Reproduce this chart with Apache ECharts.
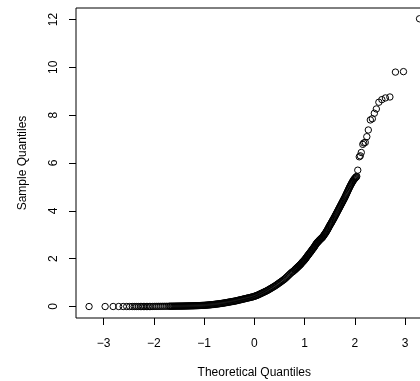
<!DOCTYPE html>
<html>
<head>
<meta charset="utf-8">
<script src="https://cdn.jsdelivr.net/npm/echarts@6/dist/echarts.min.js"></script>
<style>
  html, body { margin: 0; padding: 0; background: #fff; }
  #chart { width: 420px; height: 381px; }
</style>
</head>
<body>
<div id="chart"></div>
<script>
// Normal Q-Q plot, points as [theoretical quantile, sample quantile]

// lower tail: isolated points sitting on zero
const lowerTail = [
  [-3.29, 0], [-2.97, 0], [-2.81, 0], [-2.70, 0], [-2.61, 0], [-2.54, 0],
  [-2.48, 0], [-2.43, 0], [-2.39, 0], [-2.35, 0], [-2.31, 0], [-2.27, 0],
  [-2.24, 0], [-2.21, 0], [-2.18, 0], [-2.15, 0], [-2.12, 0], [-2.09, 0],
  [-2.06, 0], [-2.02, 0.003], [-1.98, 0.005], [-1.94, 0.006], [-1.90, 0.007],
  [-1.86, 0.008], [-1.82, 0.009], [-1.78, 0.010], [-1.74, 0.011]
];

// flat body of the distribution
const body = [
  [-1.70, 0.012], [-1.68, 0.012], [-1.66, 0.013], [-1.64, 0.013], [-1.62, 0.014],
  [-1.60, 0.014], [-1.58, 0.015], [-1.56, 0.016], [-1.54, 0.017], [-1.52, 0.017],
  [-1.50, 0.018], [-1.48, 0.018], [-1.46, 0.019], [-1.44, 0.019], [-1.42, 0.020],
  [-1.40, 0.021], [-1.38, 0.022], [-1.36, 0.023], [-1.34, 0.024], [-1.32, 0.025],
  [-1.30, 0.026], [-1.28, 0.027], [-1.26, 0.028], [-1.24, 0.029], [-1.22, 0.030],
  [-1.20, 0.031], [-1.18, 0.033], [-1.16, 0.035], [-1.14, 0.036], [-1.12, 0.038],
  [-1.10, 0.040], [-1.08, 0.042], [-1.06, 0.044], [-1.04, 0.046], [-1.02, 0.048],
  [-1.00, 0.050], [-0.98, 0.053], [-0.96, 0.057], [-0.94, 0.060], [-0.92, 0.064],
  [-0.90, 0.067], [-0.88, 0.071], [-0.86, 0.075], [-0.84, 0.080], [-0.82, 0.084],
  [-0.80, 0.089], [-0.78, 0.094], [-0.76, 0.100], [-0.74, 0.105], [-0.72, 0.110],
  [-0.70, 0.116], [-0.68, 0.122], [-0.66, 0.128], [-0.64, 0.134], [-0.62, 0.140],
  [-0.60, 0.148], [-0.58, 0.155], [-0.56, 0.163], [-0.54, 0.170], [-0.52, 0.178],
  [-0.50, 0.185], [-0.48, 0.193], [-0.46, 0.200], [-0.44, 0.208], [-0.42, 0.215],
  [-0.40, 0.222], [-0.38, 0.230], [-0.36, 0.240], [-0.34, 0.250], [-0.32, 0.260],
  [-0.30, 0.270], [-0.28, 0.280], [-0.26, 0.290], [-0.24, 0.300], [-0.22, 0.310],
  [-0.20, 0.320], [-0.18, 0.330], [-0.16, 0.340], [-0.14, 0.350], [-0.12, 0.360],
  [-0.10, 0.370], [-0.08, 0.380], [-0.06, 0.390], [-0.04, 0.400], [-0.02, 0.410],
  [0.00, 0.425], [0.02, 0.440], [0.04, 0.455], [0.06, 0.470], [0.08, 0.490],
  [0.10, 0.510], [0.12, 0.530], [0.14, 0.550], [0.16, 0.570], [0.18, 0.590],
  [0.20, 0.610], [0.22, 0.630], [0.24, 0.650], [0.26, 0.670], [0.28, 0.695],
  [0.30, 0.720], [0.32, 0.745], [0.34, 0.770], [0.36, 0.795], [0.38, 0.820],
  [0.40, 0.845], [0.42, 0.870], [0.44, 0.900], [0.46, 0.930], [0.48, 0.960],
  [0.50, 0.990], [0.52, 1.020], [0.54, 1.050], [0.56, 1.080], [0.58, 1.110],
  [0.60, 1.145], [0.62, 1.180], [0.64, 1.220], [0.66, 1.260], [0.68, 1.300],
  [0.70, 1.340], [0.72, 1.380], [0.74, 1.420], [0.76, 1.450], [0.78, 1.480]
];

// rising part of the body
const upperBody = [
  [0.80, 1.52], [0.81, 1.54], [0.82, 1.56], [0.83, 1.58], [0.84, 1.60],
  [0.85, 1.62], [0.86, 1.64], [0.87, 1.66], [0.88, 1.68], [0.89, 1.70],
  [0.90, 1.72], [0.91, 1.74], [0.92, 1.76], [0.93, 1.785], [0.94, 1.81],
  [0.95, 1.835], [0.96, 1.86], [0.97, 1.88], [0.98, 1.90], [0.99, 1.925],
  [1.00, 1.95], [1.01, 1.975], [1.02, 2.00], [1.03, 2.03], [1.04, 2.06],
  [1.05, 2.09], [1.06, 2.12], [1.07, 2.145], [1.08, 2.17], [1.09, 2.20],
  [1.10, 2.23], [1.11, 2.255], [1.12, 2.28], [1.13, 2.31], [1.14, 2.34],
  [1.15, 2.37], [1.16, 2.40], [1.17, 2.425], [1.18, 2.45], [1.19, 2.48],
  [1.20, 2.51], [1.21, 2.545], [1.22, 2.58], [1.23, 2.61], [1.24, 2.64],
  [1.25, 2.665], [1.26, 2.69], [1.27, 2.71], [1.28, 2.73], [1.29, 2.755],
  [1.30, 2.78], [1.31, 2.80], [1.32, 2.82], [1.33, 2.84], [1.34, 2.86],
  [1.35, 2.88], [1.36, 2.90], [1.37, 2.93], [1.38, 2.96], [1.39, 2.99],
  [1.40, 3.02], [1.41, 3.05], [1.42, 3.08], [1.43, 3.115], [1.44, 3.15],
  [1.45, 3.185], [1.46, 3.22], [1.47, 3.26], [1.48, 3.30], [1.49, 3.34],
  [1.50, 3.38], [1.51, 3.415], [1.52, 3.45], [1.53, 3.485], [1.54, 3.52],
  [1.55, 3.56], [1.56, 3.60], [1.57, 3.635], [1.58, 3.67], [1.59, 3.71],
  [1.60, 3.75], [1.61, 3.79], [1.62, 3.83], [1.63, 3.87], [1.64, 3.91],
  [1.65, 3.95], [1.66, 3.99], [1.67, 4.03], [1.68, 4.07], [1.69, 4.11],
  [1.70, 4.15], [1.71, 4.19], [1.72, 4.23], [1.73, 4.27], [1.74, 4.31],
  [1.75, 4.35], [1.76, 4.39], [1.77, 4.43], [1.78, 4.47], [1.79, 4.51],
  [1.80, 4.55], [1.81, 4.595], [1.82, 4.64], [1.83, 4.685], [1.84, 4.73],
  [1.85, 4.775], [1.86, 4.82], [1.87, 4.865], [1.88, 4.91], [1.89, 4.955],
  [1.90, 5.00], [1.91, 5.04], [1.92, 5.08], [1.93, 5.12], [1.94, 5.16],
  [1.95, 5.195], [1.96, 5.23], [1.97, 5.265], [1.98, 5.30], [1.99, 5.325],
  [2.00, 5.35], [2.01, 5.375], [2.02, 5.40], [2.03, 5.42], [2.04, 5.44]
];

// upper tail: the largest observations
const upperTail = [
  [2.06, 5.70], [2.09, 6.26], [2.11, 6.30], [2.13, 6.44], [2.16, 6.78],
  [2.18, 6.84], [2.21, 6.86], [2.24, 7.10], [2.27, 7.38], [2.31, 7.80],
  [2.35, 7.85], [2.39, 8.08], [2.43, 8.26], [2.48, 8.54], [2.54, 8.65],
  [2.61, 8.72], [2.70, 8.76], [2.81, 9.80], [2.97, 9.82], [3.29, 12.03]
];

const xTicks = [-3, -2, -1, 0, 1, 2, 3];
const yTicks = [0, 2, 4, 6, 8, 10, 12];

const xLabel = 'Theoretical Quantiles';
const yLabel = 'Sample Quantiles';

const points = lowerTail.concat(body, upperBody, upperTail);
const fontFamily = '"Liberation Sans", Arial, Helvetica, sans-serif';
const minusSign = v => String(v).replace('-', '\u2212');

const chart = echarts.init(document.getElementById('chart'), null, { renderer: 'canvas' });
chart.setOption({
  animation: false,
  backgroundColor: '#fff',
  grid: {
    left: 76, top: 8, width: 356.6, height: 310,
    outerBoundsMode: 'none', containLabel: false,
    show: true, borderColor: '#000', borderWidth: 1, backgroundColor: 'transparent'
  },
  xAxis: {
    type: 'value', min: -3.55, max: 3.55,
    name: xLabel, nameLocation: 'middle', nameGap: 49,
    nameTextStyle: { fontFamily, fontSize: 12, color: '#000' },
    axisLine: { show: false, onZero: false },
    splitLine: { show: false },
    axisTick: { show: true, inside: false, length: 7, customValues: xTicks,
      lineStyle: { color: '#000', width: 1 } },
    axisLabel: { customValues: xTicks, margin: 20, fontFamily, fontSize: 12, color: '#000',
      formatter: minusSign }
  },
  yAxis: {
    type: 'value', min: -0.48, max: 12.48,
    name: yLabel, nameLocation: 'middle', nameGap: 47, nameRotate: 90,
    nameTextStyle: { fontFamily, fontSize: 12, color: '#000' },
    axisLine: { show: false, onZero: false },
    splitLine: { show: false },
    axisTick: { show: true, inside: false, length: 7, customValues: yTicks,
      lineStyle: { color: '#000', width: 1 } },
    axisLabel: { customValues: yTicks, margin: 16, rotate: 90, fontFamily, fontSize: 12, color: '#000',
      formatter: minusSign }
  },
  series: [{
    type: 'scatter',
    data: points,
    symbol: 'circle',
    symbolSize: 6.4,
    large: false,
    itemStyle: { color: 'rgba(0,0,0,0)', borderColor: '#000', borderWidth: 1, opacity: 1 },
    emphasis: { disabled: true }
  }]
});
</script>
</body>
</html>
